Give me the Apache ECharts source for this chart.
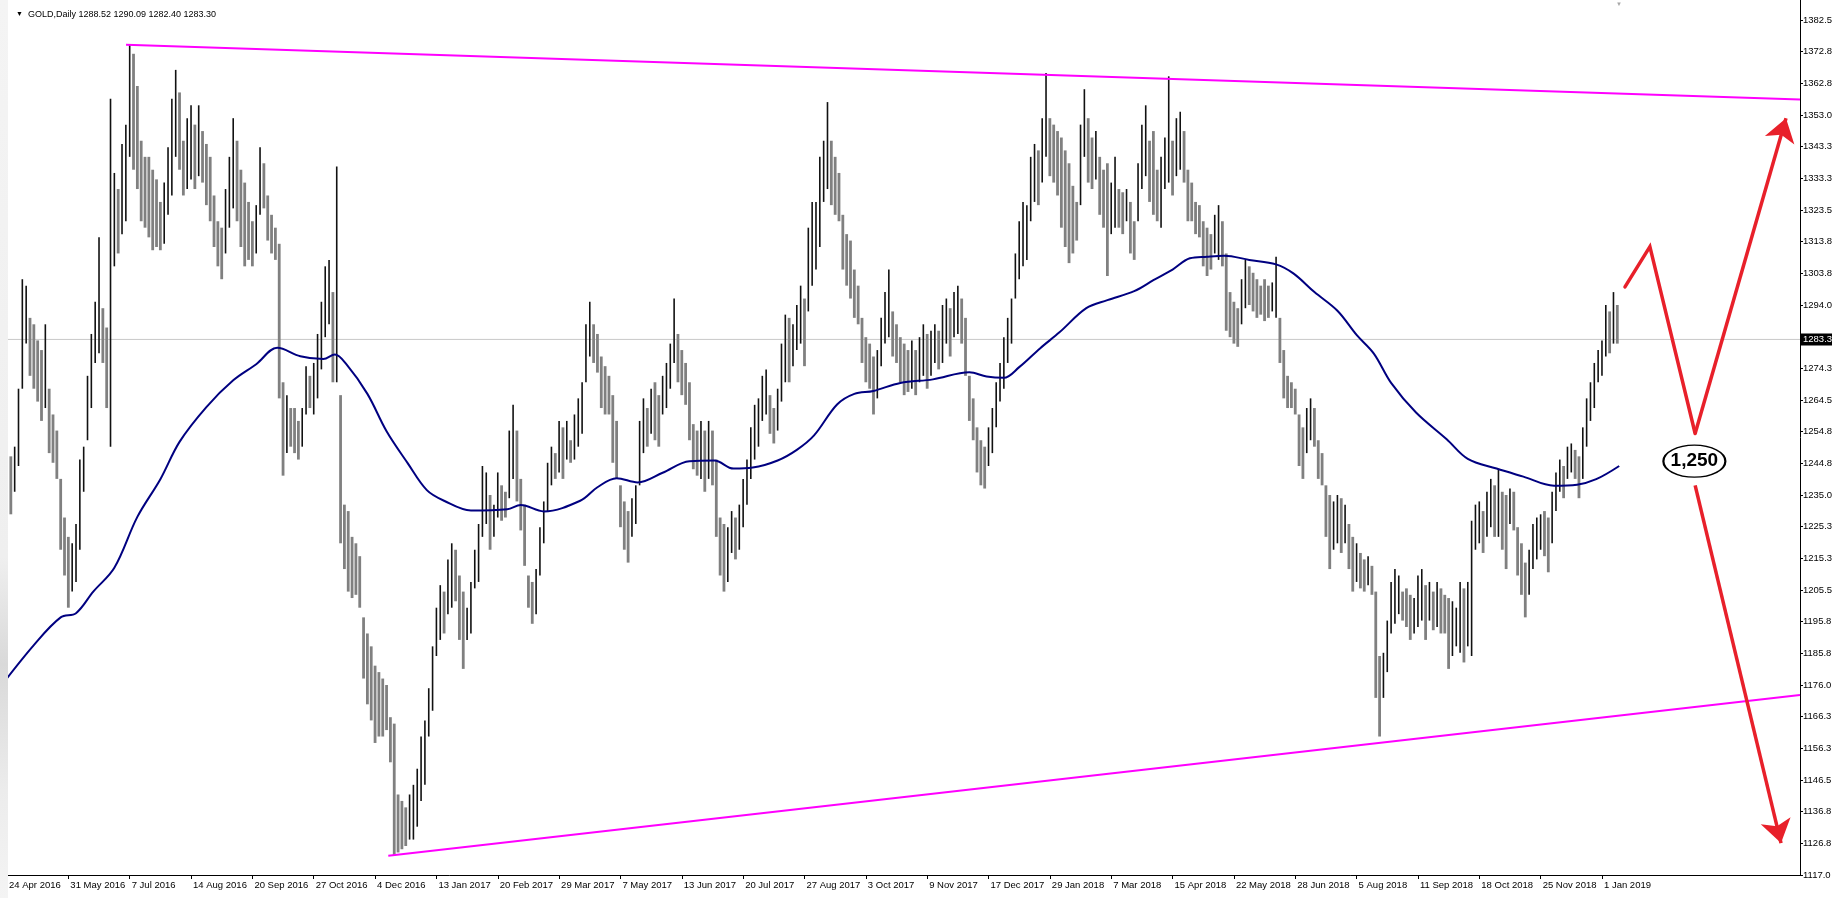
<!DOCTYPE html>
<html><head><meta charset="utf-8">
<script src="https://cdn.jsdelivr.net/npm/echarts@6/dist/echarts.min.js"></script>
<style>html,body{margin:0;padding:0;background:#fff;overflow:hidden}#c{width:1832px;height:898px}</style>
</head><body><div id="c"></div>
<script>
// ---------------- data ----------------
const header = 'GOLD,Daily 1288.52 1290.09 1282.40 1283.30';
const dateLabels = ['24 Apr 2016','31 May 2016','7 Jul 2016','14 Aug 2016','20 Sep 2016','27 Oct 2016','4 Dec 2016','13 Jan 2017','20 Feb 2017','29 Mar 2017','7 May 2017','13 Jun 2017','20 Jul 2017','27 Aug 2017','3 Oct 2017','9 Nov 2017','17 Dec 2017','29 Jan 2018','7 Mar 2018','15 Apr 2018','22 May 2018','28 Jun 2018','5 Aug 2018','11 Sep 2018','18 Oct 2018','25 Nov 2018','1 Jan 2019'];
const BARS_PER_LABEL = 32;
const priceTicks = [1117.0,1126.8,1136.8,1146.5,1156.3,1166.3,1176.0,1185.8,1195.8,1205.5,1215.3,1225.3,1235.0,1244.8,1254.8,1264.5,1274.3,1294.0,1303.8,1313.8,1323.5,1333.3,1343.3,1353.0,1362.8,1372.8,1382.5];
const lastPrice = 1283.3;
const FIRST_BAR = 2, BAR_STEP = 2;
const highs = [
1247,1250,1268,1302,1300,1290,1288,1283,1280,1288,
1268,1260,1255,1240,1228,1222,1220,1226,1246,1250,
1272,1285,1295,1315,1293,1287,1358,1335,1330,1344,
1350,1375,1372,1362,1345,1340,1340,1336,1333,1326,
1332,1343,1358,1367,1360,1345,1352,1356,1350,1356,
1348,1344,1340,1328,1320,1318,1330,1340,1352,1345,
1336,1332,1326,1320,1325,1343,1338,1328,1322,1318,
1313,1270,1266,1262,1262,1258,1262,1275,1272,1276,
1285,1295,1306,1308,1298,1337,1266,1232,1230,1222,
1220,1216,1197,1192,1188,1182,1180,1178,1176,1166,
1164,1142,1140,1138,1142,1145,1150,1160,1165,1175,
1188,1200,1207,1205,1215,1220,1218,1210,1205,1200,
1208,1218,1226,1244,1242,1235,1232,1242,1238,1236,
1255,1263,1255,1240,1232,1210,1208,1212,1225,1233,
1245,1250,1248,1258,1256,1258,1252,1260,1265,1270,
1288,1295,1288,1285,1278,1275,1272,1266,1258,1238,
1233,1230,1234,1238,1258,1265,1262,1268,1270,1266,
1272,1276,1282,1296,1285,1280,1276,1270,1257,1255,
1258,1255,1258,1255,1246,1228,1226,1225,1230,1228,
1232,1240,1246,1256,1263,1265,1272,1274,1266,1262,
1268,1282,1291,1290,1288,1294,1300,1296,1318,1326,
1326,1340,1345,1357,1345,1340,1335,1322,1316,1314,
1305,1300,1290,1284,1282,1278,1280,1290,1298,1305,
1292,1288,1284,1282,1280,1283,1280,1284,1288,1285,
1286,1288,1286,1294,1296,1293,1298,1300,1296,1290,
1272,1265,1256,1252,1250,1256,1262,1270,1276,1284,
1290,1296,1310,1320,1326,1325,1340,1344,1342,1352,
1366,1352,1350,1348,1346,1342,1338,1331,1326,1350,
1361,1352,1346,1348,1340,1336,1338,1332,1340,1330,
1329,1330,1326,1320,1338,1350,1356,1345,1348,1336,
1340,1346,1365,1345,1352,1354,1348,1336,1332,1326,
1325,1320,1318,1316,1322,1325,1320,1310,1298,1295,
1293,1302,1308,1306,1304,1302,1300,1302,1300,1301,
1309,1290,1280,1272,1270,1268,1260,1256,1262,1265,
1262,1252,1248,1238,1235,1233,1235,1234,1232,1226,
1222,1220,1217,1215,1216,1213,1205,1185,1186,1196,
1208,1212,1210,1205,1206,1204,1203,1210,1212,1207,
1208,1205,1208,1206,1204,1203,1202,1200,1208,1206,
1208,1227,1232,1233,1230,1236,1240,1238,1243,1236,
1235,1237,1236,1225,1220,1214,1218,1226,1228,1229,
1230,1228,1236,1242,1246,1244,1250,1251,1249,1247,
1256,1265,1270,1276,1280,1283,1294,1292,1298,1294];
const lows = [
1229,1236,1244,1268,1282,1272,1268,1264,1258,1262,
1248,1245,1240,1218,1210,1200,1205,1208,1218,1236,
1252,1262,1276,1279,1276,1262,1250,1306,1310,1316,
1320,1340,1336,1330,1320,1318,1315,1311,1312,1311,
1313,1322,1328,1340,1336,1328,1330,1333,1330,1334,
1332,1325,1320,1312,1306,1302,1310,1318,1324,1320,
1312,1306,1308,1306,1310,1322,1324,1314,1310,1308,
1265,1241,1248,1250,1248,1246,1250,1260,1262,1260,
1265,1274,1284,1288,1270,1270,1220,1212,1205,1203,
1204,1200,1178,1170,1165,1158,1160,1160,1162,1152,
1123,1124,1125,1126,1128,1128,1132,1140,1145,1160,
1168,1185,1190,1192,1198,1200,1202,1190,1181,1190,
1192,1206,1208,1222,1226,1218,1222,1228,1227,1228,
1234,1240,1233,1224,1213,1200,1195,1198,1210,1220,
1230,1238,1240,1242,1240,1246,1245,1246,1250,1254,
1270,1278,1276,1273,1262,1260,1260,1245,1240,1225,
1218,1214,1222,1226,1238,1248,1250,1254,1252,1250,
1260,1262,1268,1276,1270,1266,1263,1252,1243,1241,
1240,1236,1240,1238,1222,1210,1205,1208,1217,1215,
1218,1225,1232,1240,1246,1250,1258,1260,1254,1251,
1255,1264,1270,1270,1275,1280,1282,1275,1292,1300,
1305,1312,1326,1330,1325,1322,1320,1305,1300,1296,
1290,1288,1276,1270,1268,1260,1265,1275,1282,1284,
1278,1276,1270,1266,1267,1268,1266,1270,1272,1268,
1272,1276,1274,1276,1282,1278,1284,1285,1282,1272,
1258,1252,1242,1238,1237,1244,1248,1256,1264,1268,
1276,1282,1296,1302,1306,1308,1320,1326,1325,1332,
1340,1334,1332,1328,1318,1312,1307,1310,1314,1325,
1340,1332,1330,1333,1322,1318,1303,1316,1318,1318,
1316,1320,1310,1308,1320,1330,1334,1326,1322,1320,
1318,1330,1332,1328,1334,1336,1332,1320,1320,1316,
1315,1306,1303,1305,1310,1308,1306,1286,1284,1282,
1281,1288,1293,1294,1292,1290,1291,1289,1290,1292,
1290,1276,1265,1262,1262,1260,1244,1240,1248,1252,
1250,1240,1238,1222,1212,1218,1220,1217,1220,1212,
1205,1208,1206,1205,1207,1204,1172,1160,1172,1180,
1192,1195,1198,1196,1194,1190,1192,1194,1196,1190,
1196,1193,1194,1192,1192,1181,1185,1188,1186,1183,
1188,1185,1218,1220,1217,1222,1225,1222,1222,1218,
1212,1226,1224,1210,1204,1197,1204,1212,1215,1218,
1216,1211,1220,1230,1236,1234,1240,1242,1240,1234,
1240,1250,1258,1262,1270,1272,1278,1279,1282,1282];
const maBars = [-3.65,14,28,36,45,56,68,80,90,104,118,130,141,153,165,171,177,188,198,209,219,228,242,261,268,280,299,308,318,329,342,356,369,379,389,402,412,421,433,442,452,466,483,502,511,520,528,539,549,563,574,588,598,608,617,626,635,648,662,671,682,694,704,713,722,735,751,762,777,791,807,819,829,841];
const maValues = [1175.3,1188.4,1197.0,1198.3,1205.0,1212.4,1228.2,1239.9,1251.5,1262.3,1270.6,1275.6,1280.7,1278.1,1277.2,1278.6,1275.6,1266.4,1254.8,1244.9,1236.5,1233.2,1230.2,1230.6,1231.9,1229.9,1233.2,1237.4,1240.2,1238.9,1241.9,1245.5,1245.7,1243.2,1243.5,1245.7,1249.0,1253.5,1263.1,1266.4,1267.3,1269.8,1270.9,1273.1,1271.8,1271.4,1274.7,1280.6,1285.5,1293.0,1295.5,1298.3,1301.7,1305.0,1308.5,1309.0,1309.3,1308.0,1306.6,1303.8,1298.0,1292.2,1284.7,1278.9,1269.8,1260.6,1252.3,1246.2,1243.2,1240.7,1237.9,1238.2,1239.9,1244.0];
const upperTrend = [[62.1,1374.8],[935.3,1357.8]];
const lowerTrend = [[198.9,1123.0],[935.3,1172.9]];
const forecastPath = [[844,1299.6],[857,1312.1],[880.6,1254.1]];
const arrowSegments = [[[880.6,1254.1],[928,1352.0]], [[880.6,1238.0],[925.4,1126.9]]];
const targetText = '1,250';
const targetAt = [880.2,1245.5];

// ---------------- chart ----------------
const FONT = 'Liberation Sans';
const XMIN = -3.65, XMAX = 935.3;
const labelVals = dateLabels.map((d, i) => i * BARS_PER_LABEL);
const barData = highs.map((h, i) => {
  const up = i > 0 && (h + lows[i]) > (highs[i - 1] + lows[i - 1]) ? 1 : 0;
  return [FIRST_BAR + i * BAR_STEP, lows[i], h, up];
});
const RED = '#e8202a';

const chart = echarts.init(document.getElementById('c'), null, {renderer: 'canvas'});
chart.setOption({
  animation: false,
  backgroundColor: '#fff',
  title: {
    text: '{t|▼}  ' + header, left: 11, top: 5,
    textStyle: {fontFamily: FONT, fontSize: 9, fontWeight: 'normal', color: '#000', rich: {t: {fontSize: 7, color: '#000'}}}
  },
  grid: {left: 0, right: 32, top: 0, bottom: 23, containLabel: false, outerBoundsMode: 'none'},
  xAxis: {
    type: 'value', min: XMIN, max: XMAX,
    axisLine: {show: true, onZero: false, lineStyle: {color: '#000', width: 1}},
    axisTick: {show: true, customValues: labelVals, length: 4, lineStyle: {color: '#000'}},
    axisLabel: {customValues: labelVals, formatter: v => dateLabels[Math.round(v / BARS_PER_LABEL)] || '',
      align: 'left', color: '#000', fontFamily: FONT, fontSize: 9.5, margin: 5, padding: [0, 0, 0, 2]},
    splitLine: {show: false}
  },
  yAxis: {
    type: 'value', position: 'right', min: 1117.0, max: 1388.7,
    axisLine: {show: true, onZero: false, lineStyle: {color: '#000', width: 1}},
    axisTick: {show: true, customValues: priceTicks, length: 3, lineStyle: {color: '#000'}},
    axisLabel: {customValues: priceTicks, formatter: v => v.toFixed(1), color: '#000', fontFamily: FONT, fontSize: 9.5, margin: 3},
    splitLine: {show: false}
  },
  graphic: [
    {type: 'rect', left: 0, top: 0, z: 100, shape: {width: 8, height: 898},
      style: {fill: {type: 'linear', x: 0, y: 0, x2: 0, y2: 1, colorStops: [
        {offset: 0, color: '#f4f4f4'}, {offset: 0.62, color: '#efefef'}, {offset: 0.74, color: '#d9d9d9'},
        {offset: 0.88, color: '#ececec'}, {offset: 1, color: '#f4f4f4'}]}}},
    {type: 'text', left: 1616, top: 1, z: 100, style: {text: '▼', fontSize: 6, fill: '#a8a8a8'}}
  ],
  series: [
    {
      name: 'price', type: 'line', data: [[XMIN, lastPrice], [XMAX, lastPrice]], z: 1, symbol: 'none', silent: true,
      lineStyle: {color: '#c8c8c8', width: 1},
      endLabel: {show: true, formatter: lastPrice.toFixed(1), backgroundColor: '#000', color: '#fff',
        fontFamily: FONT, fontSize: 9.5, padding: [1, 4, 1, 2], distance: 1}
    },
    {
      name: 'bars', type: 'custom', z: 3, clip: true, silent: true,
      data: barData, encode: {x: 0, y: [1, 2]},
      renderItem: (params, api) => {
        const b = api.value(0);
        const lo = api.coord([b, api.value(1)]);
        const hi = api.coord([b, api.value(2)]);
        const up = api.value(3) === 1;
        const w = up ? 1.6 : 2.8;
        return {type: 'rect', shape: {x: lo[0] - w / 2, y: hi[1], width: w, height: Math.max(1, lo[1] - hi[1])},
          style: {fill: up ? '#111' : '#808080'}};
      }
    },
    {
      name: 'MA', type: 'line', z: 4, symbol: 'none', smooth: 0.35, silent: true,
      data: maBars.map((b, i) => [b, maValues[i]]),
      lineStyle: {color: '#000080', width: 2}
    },
    {name: 'upper', type: 'line', z: 5, symbol: 'none', silent: true, data: upperTrend, lineStyle: {color: '#ff00ff', width: 2}},
    {name: 'lower', type: 'line', z: 5, symbol: 'none', silent: true, data: lowerTrend, lineStyle: {color: '#ff00ff', width: 2}},
    {
      name: 'forecast', type: 'line', z: 6, symbol: 'none', silent: true, clip: false,
      data: forecastPath,
      lineStyle: {color: RED, width: 3.5, cap: 'round', join: 'miter'},
      markPoint: {
        silent: true, symbol: 'circle', symbolSize: [62, 32],
        itemStyle: {color: '#fff', borderColor: '#000', borderWidth: 1.6},
        label: {show: true, position: 'inside', formatter: targetText, color: '#000', fontFamily: FONT, fontSize: 19, fontWeight: 'bold'},
        data: [{coord: targetAt}]
      }
    },
    {
      name: 'arrows', type: 'lines', coordinateSystem: 'cartesian2d', z: 6, silent: true, clip: false,
      symbol: ['none', 'arrow'], symbolSize: 23,
      lineStyle: {color: RED, width: 3.5, opacity: 1, curveness: 0},
      itemStyle: {color: RED},
      data: arrowSegments.map(s => ({coords: s}))
    }
  ]
});
</script></body></html>
